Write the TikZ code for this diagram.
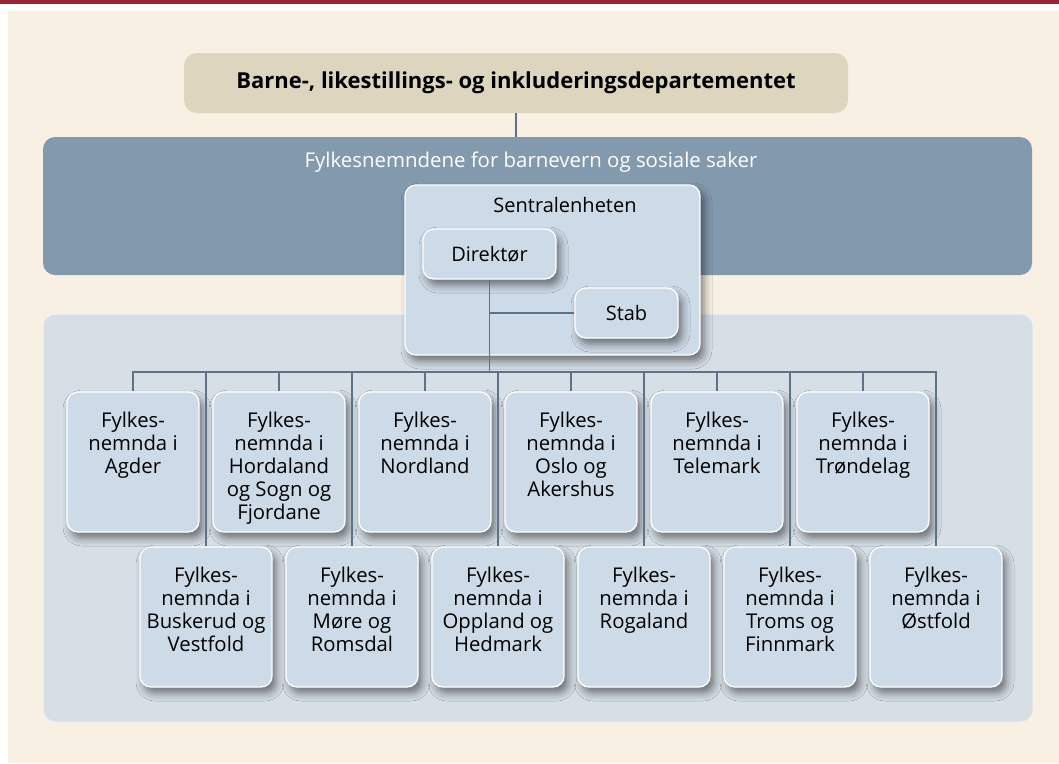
\documentclass[tikz,border=0pt]{standalone}
\usepackage{fontspec}
\setmainfont{Open Sans}
\usetikzlibrary{shadows.blur}
\definecolor{redbar}{HTML}{9B2335}
\definecolor{cream}{HTML}{F8F1E3}
\definecolor{topfill}{HTML}{DDD5BE}
\definecolor{bandfill}{HTML}{8399AE}
\definecolor{panelfill}{HTML}{D6DEE6}
\definecolor{boxfill}{HTML}{CDDAE7}
\definecolor{linecol}{HTML}{5D7189}
\newcommand{\unitnode}[4]{%
  \node[unitbox] (#1) at (#2,#3) {};
  \node[unittext] (#1t) at ([yshift=-21pt]#1.north) {#4};}
\begin{document}
\begin{tikzpicture}[x=1pt,y=-1pt,
  orgbox/.style={rounded corners=11pt, fill=boxfill, draw=white, line width=1.3pt,
    blur shadow={shadow xshift=4pt, shadow yshift=-6pt, shadow blur radius=8pt, shadow opacity=50},
    inner sep=0pt},
  unitbox/.style={orgbox, minimum width=132pt, minimum height=140pt},
  unittext/.style={anchor=north, align=center, font=\fontsize{20.3}{23}\selectfont, inner sep=0pt, text=black},
  smalltext/.style={font=\fontsize{20}{23}\selectfont, text=black},
  conn/.style={draw=linecol, line width=1.5pt}]
\useasboundingbox (0,0) rectangle (1059,763);
\fill[white] (0,0) rectangle (1059,763);
\fill[redbar] (0,0) rectangle (1059,4);
\fill[cream] (8,11) rectangle (1059,763);
% ministry
\node[rounded corners=13pt, fill=topfill, minimum width=664pt, minimum height=60pt, inner sep=0pt,
  font=\fontsize{22}{26}\selectfont\bfseries] (dep) at (516,83) {Barne-, likestillings- og inkluderingsdepartementet};
% band
\node[rounded corners=12pt, fill=bandfill, minimum width=989pt, minimum height=138pt, inner sep=0pt] (band) at (537.5,206) {};
\node[anchor=base, font=\fontsize{20.4}{23}\selectfont, text=white, inner sep=0pt] (bandtxt) at (531,167) {Fylkesnemndene for barnevern og sosiale saker};
% panel
\node[rounded corners=12pt, fill=panelfill, draw=white!60!panelfill, line width=1pt, minimum width=990pt, minimum height=408pt, inner sep=0pt] (panel) at (538,518) {};
\draw[conn] (dep.south) -- (dep.south |- band.north);
% central unit
\node[orgbox, minimum width=295pt, minimum height=170pt] (sent) at (552.5,270) {};
\node[smalltext, anchor=base, inner sep=0pt] (senttxt) at (565,212) {Sentralenheten};
\node[orgbox, smalltext, minimum width=133pt, minimum height=50pt] (dir) at (489.5,254) {Direktør};
\node[orgbox, smalltext, minimum width=103pt, minimum height=50pt] (stab) at (626.5,313) {Stab};
% units
\unitnode{u1}{133}{462}{Fylkes-\\nemnda i\\Agder}
\unitnode{u2}{279}{462}{Fylkes-\\nemnda i\\Hordaland\\og Sogn og\\Fjordane}
\unitnode{u3}{425}{462}{Fylkes-\\nemnda i\\Nordland}
\unitnode{u4}{571}{462}{Fylkes-\\nemnda i\\Oslo og\\Akershus}
\unitnode{u5}{717}{462}{Fylkes-\\nemnda i\\Telemark}
\unitnode{u6}{863}{462}{Fylkes-\\nemnda i\\Trøndelag}
\unitnode{v1}{206}{617}{Fylkes-\\nemnda i\\Buskerud og\\Vestfold}
\unitnode{v2}{352}{617}{Fylkes-\\nemnda i\\Møre og\\Romsdal}
\unitnode{v3}{498}{617}{Fylkes-\\nemnda i\\Oppland og\\Hedmark}
\unitnode{v4}{644}{617}{Fylkes-\\nemnda i\\Rogaland}
\unitnode{v5}{790}{617}{Fylkes-\\nemnda i\\Troms og\\Finnmark}
\unitnode{v6}{936}{617}{Fylkes-\\nemnda i\\Østfold}
% connectors
\coordinate (bus) at (490,372);
\draw[conn] (dir.south) -- (dir.south |- bus);
\draw[conn] (stab.west) -- (stab.west -| dir.south);
\draw[conn, line cap=rect] (u1.north |- bus) -- (v6.north |- bus);
\foreach \n in {u1,u2,u3,u4,u5,u6,v1,v2,v3,v4,v5,v6}
  \draw[conn] (\n.north) -- (\n.north |- bus);
\end{tikzpicture}
\end{document}
